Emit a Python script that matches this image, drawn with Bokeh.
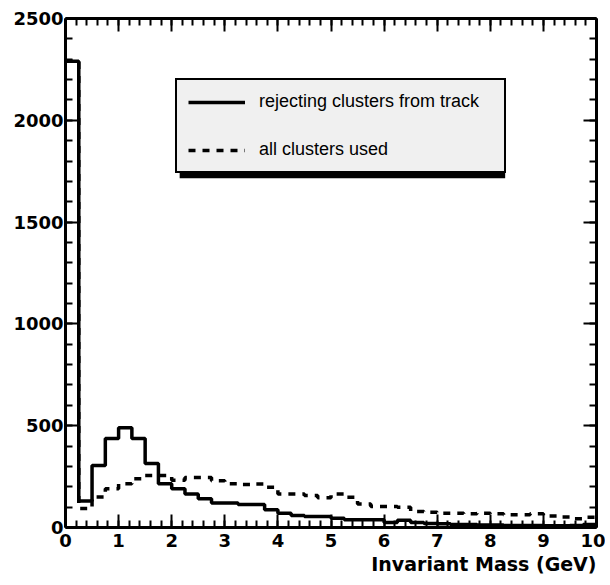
import numpy as np
from bokeh.plotting import figure
from bokeh.models import (Range1d, LinearAxis, SingleIntervalTicker, Legend, LegendItem,
                          BoxAnnotation, Title)
from bokeh.embed import file_html
from bokeh.resources import INLINE

# ---- data (bin contents, 40 bins of 0.25 GeV from 0 to 10 GeV) ----
mass_lo = 0.0
mass_hi = 10.0
rejecting = [2290, 130, 305, 437, 490, 437, 314, 215, 190, 165,
             141, 120, 120, 113, 113, 87, 70, 59, 54, 54,
             46, 38, 38, 38, 25, 36, 25, 20, 18, 15,
             15, 12, 12, 10, 10, 10, 8, 8, 10, 15]
all_used = [2290, 93, 150, 190, 215, 240, 255, 255, 232, 245,
            245, 230, 215, 211, 214, 198, 165, 165, 157, 146,
            165, 149, 116, 103, 103, 100, 79, 75, 70, 70,
            67, 70, 67, 63, 63, 67, 56, 51, 43, 50]
label_solid = "rejecting clusters from track"
label_dashed = "all clusters used"
x_title = "Invariant Mass (GeV)"

nb = len(rejecting)
edges = np.linspace(mass_lo, mass_hi, nb + 1)

W, H = 605, 580
p = figure(width=W, height=H, output_backend="svg", toolbar_location=None,
           x_range=Range1d(0, 10), y_range=Range1d(0, 2500),
           min_border_left=65, min_border_right=9, min_border_top=18, min_border_bottom=53,
           x_axis_location=None, y_axis_location=None)
p.grid.visible = False
p.outline_line_color = None
p.background_fill_color = "white"
p.border_fill_color = "white"

FONT = "DejaVu Sans"

def style_axis(ax, show_labels):
    ax.axis_line_width = 3
    ax.axis_line_color = "black"
    ax.major_tick_in = 13
    ax.major_tick_out = 0
    ax.minor_tick_in = 7
    ax.minor_tick_out = 0
    ax.major_tick_line_width = 2
    ax.minor_tick_line_width = 2
    ax.major_tick_line_color = "black"
    ax.minor_tick_line_color = "black"
    if show_labels:
        ax.major_label_text_font = FONT
        ax.major_label_text_font_style = "bold"
        ax.major_label_text_font_size = "18px"
        ax.major_label_text_color = "black"
    else:
        ax.major_label_text_font_size = "0px"
        ax.major_label_text_color = None
        ax.major_label_standoff = 0

xt = SingleIntervalTicker(interval=1, num_minor_ticks=5)
yt = SingleIntervalTicker(interval=500, num_minor_ticks=5)

xb = LinearAxis(ticker=xt)
style_axis(xb, True)
xb.major_label_standoff = 6
p.add_layout(xb, "below")

yl = LinearAxis(ticker=yt)
style_axis(yl, True)
yl.major_label_standoff = 2
p.add_layout(yl, "left")

xa = LinearAxis(ticker=SingleIntervalTicker(interval=1, num_minor_ticks=5))
style_axis(xa, False)
p.add_layout(xa, "above")

yr = LinearAxis(ticker=SingleIntervalTicker(interval=500, num_minor_ticks=5))
style_axis(yr, False)
p.add_layout(yr, "right")

# histograms
r_dash = p.step(x=edges, y=list(all_used) + [all_used[-1]], mode="after",
                line_color="black", line_width=3.5, line_dash="7 7")
r_solid = p.step(x=edges, y=list(rejecting) + [rejecting[-1]], mode="after",
                 line_color="black", line_width=3.5)

# legend shadow (offset a few pixels right/down of the legend box)
shadow = BoxAnnotation(left=2.15, right=8.28, top=2176, bottom=1715,
                       fill_color="black", fill_alpha=1.0, line_color=None)
p.add_layout(shadow)

legend = Legend(items=[LegendItem(label=label_solid, renderers=[r_solid]),
                       LegendItem(label=label_dashed, renderers=[r_dash])],
                location=(110, 354), orientation="vertical",
                margin=0, padding=11, spacing=27,
                glyph_width=57, glyph_height=20, label_height=20, label_width=234,
                label_standoff=14,
                label_text_font="Liberation Sans", label_text_font_size="18px",
                label_text_color="black",
                border_line_color="black", border_line_width=2, border_line_alpha=1.0,
                background_fill_color="#f0f0f0", background_fill_alpha=1.0)
p.add_layout(legend, "center")

t = Title(text=x_title, align="right", text_font=FONT, text_font_style="bold",
          text_font_size="19px", text_color="black", standoff=3, offset=0)
p.add_layout(t, "below")

open("out.html", "w").write(file_html(p, INLINE))
